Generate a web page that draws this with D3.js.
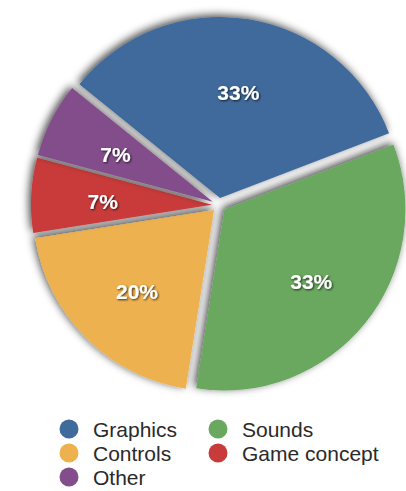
<!DOCTYPE html>
<html>
<head>
<meta charset="utf-8">
<script src="https://cdn.jsdelivr.net/npm/d3@7"></script>
<style>
  html, body { margin: 0; padding: 0; background: #fff; }
  svg { display: block; font-family: "Liberation Sans", Arial, Helvetica, sans-serif; }
</style>
</head>
<body>
<div id="chart"></div>
<script>
// Feedback categories and counts (shown as share of total)
const categories = ["Graphics", "Sounds", "Controls", "Game concept", "Other"];
const counts = [5, 5, 3, 1, 1];
const colors = ["#3f6a9c", "#6aa860", "#eeb14f", "#c93b3b", "#834d8c"];

const width = 406, height = 491;
const cx = 219, cy = 205, radius = 181;
const explode = 7;
const startDeg = -51;

const data = categories.map((c, i) => ({ name: c, value: counts[i], color: colors[i] }));
const total = d3.sum(counts);

const svg = d3.select("#chart").append("svg")
    .attr("width", width)
    .attr("height", height);

const defs = svg.append("defs");

// soft shadow behind each slice
const shadow = defs.append("filter")
    .attr("id", "slice-shadow")
    .attr("x", "-20%").attr("y", "-20%")
    .attr("width", "140%").attr("height", "140%");
shadow.append("feGaussianBlur").attr("in", "SourceAlpha").attr("stdDeviation", 4).attr("result", "blur");
shadow.append("feOffset").attr("in", "blur").attr("dx", -2).attr("dy", -2).attr("result", "off");
shadow.append("feFlood").attr("flood-color", "#000").attr("flood-opacity", 0.72).attr("result", "col");
shadow.append("feComposite").attr("in", "col").attr("in2", "off").attr("operator", "in").attr("result", "sh");
const m = shadow.append("feMerge");
m.append("feMergeNode").attr("in", "sh");
m.append("feMergeNode").attr("in", "SourceGraphic");

// text shadow for labels
const tshadow = defs.append("filter").attr("id", "text-shadow")
    .attr("x", "-20%").attr("y", "-30%").attr("width", "140%").attr("height", "160%");
tshadow.append("feGaussianBlur").attr("in", "SourceAlpha").attr("stdDeviation", 1).attr("result", "b");
tshadow.append("feOffset").attr("in", "b").attr("dx", 0.5).attr("dy", 1).attr("result", "o");
tshadow.append("feFlood").attr("flood-color", "#000").attr("flood-opacity", 0.75).attr("result", "c");
tshadow.append("feComposite").attr("in", "c").attr("in2", "o").attr("operator", "in").attr("result", "s");
const tm = tshadow.append("feMerge");
tm.append("feMergeNode").attr("in", "s");
tm.append("feMergeNode").attr("in", "SourceGraphic");

const pie = d3.pie()
    .sort(null)
    .value(d => d.value)
    .startAngle(startDeg * Math.PI / 180)
    .endAngle((startDeg + 360) * Math.PI / 180);

const arc = d3.arc().innerRadius(0).outerRadius(radius);
const labelArc = d3.arc().innerRadius(radius * 0.61).outerRadius(radius * 0.61);

const arcs = pie(data);

const g = svg.append("g").attr("transform", `translate(${cx},${cy})`);

const slices = g.selectAll("g.slice")
    .data(arcs)
    .enter()
    .append("g")
    .attr("class", "slice")
    .attr("transform", d => {
        const a = (d.startAngle + d.endAngle) / 2;
        return `translate(${Math.sin(a) * explode},${-Math.cos(a) * explode})`;
    });

slices.append("path")
    .attr("d", arc)
    .attr("fill", d => d.data.color)
    .attr("filter", "url(#slice-shadow)");

// percentage labels on top of all slices
g.selectAll("text.pct")
    .data(arcs)
    .enter()
    .append("text")
    .attr("class", "pct")
    .attr("transform", d => {
        const a = (d.startAngle + d.endAngle) / 2;
        const [x, y] = labelArc.centroid(d);
        return `translate(${x + Math.sin(a) * explode + 1},${y - Math.cos(a) * explode})`;
    })
    .attr("text-anchor", "middle")
    .attr("dy", "0.5em")
    .attr("fill", "#fff")
    .attr("font-size", "21px")
    .attr("font-weight", "bold")
    .attr("filter", "url(#text-shadow)")
    .text(d => Math.round(d.data.value / total * 100) + "%");

// Legend: two columns, filled row by row
const legend = svg.append("g").attr("transform", "translate(69,429)");
const colX = [0, 149];
const rowH = 24;

data.forEach((d, i) => {
    const row = legend.append("g")
        .attr("transform", `translate(${colX[i % 2]},${Math.floor(i / 2) * rowH})`);
    row.append("circle")
        .attr("r", 9.5)
        .attr("fill", d.color);
    row.append("text")
        .attr("x", 24)
        .attr("dy", "0.36em")
        .attr("font-size", "21px")
        .attr("fill", "#2a2a2a")
        .text(d.name);
});
</script>
</body>
</html>
